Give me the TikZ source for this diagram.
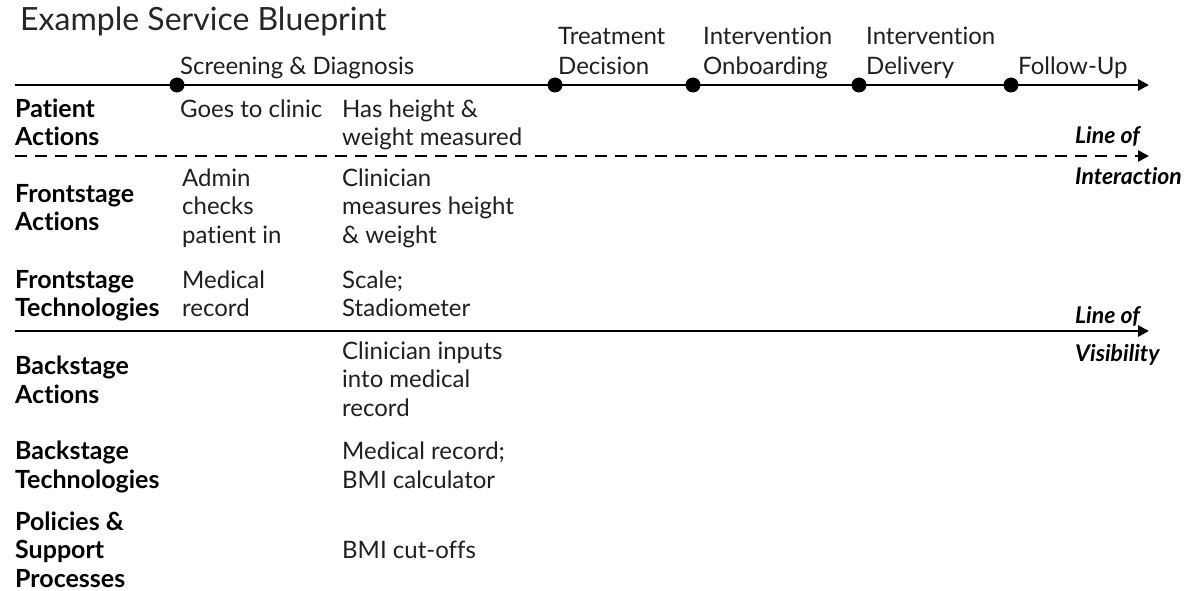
\documentclass[tikz,border=0pt]{standalone}
\usepackage{fontspec}
\setmainfont[Ligatures=NoCommon]{Lato}
\usetikzlibrary{arrows.meta}
\begin{document}
\begin{tikzpicture}[x=1pt,y=-1pt,
  txt/.style={anchor=base west,inner sep=0pt,align=left,text=black!88,
    font=\fontsize{24}{28.3}\selectfont},
  phase/.style={txt,font=\fontsize{24}{30}\selectfont},
  rowlab/.style={txt,text=black,font=\fontsize{25}{28.3}\selectfont\bfseries},
  linelab/.style={txt,text=black,font=\fontsize{23}{40}\selectfont\bfseries\itshape},
  axis/.style={line width=2.8pt,-{Triangle[length=11pt,width=11pt]}},
  stage/.style={circle,fill=black,inner sep=0pt,minimum size=15pt}]
\useasboundingbox (0,0) rectangle (1194,591);

% title
\node[txt,text=black!85,font=\fontsize{32}{36}\selectfont] (title) at (20,31) {Example Service Blueprint};

% customer journey timeline with its stages
\coordinate (tl0) at (15,85);
\coordinate (tl1) at (1149,85);
\draw[axis] (tl0) -- (tl1);
\node[stage] (s1) at (177,85) {};
\node[stage] (s2) at (555,85) {};
\node[stage] (s3) at (693,85) {};
\node[stage] (s4) at (859,85) {};
\node[stage] (s5) at (1011,85) {};
\node[phase] (p1) at (180,75) {Screening \& Diagnosis};
\node[phase] (p2) at (558,75) {Treatment\\Decision};
\node[phase] (p3) at (703,75) {Intervention\\Onboarding};
\node[phase] (p4) at (866,75) {Intervention\\Delivery};
\node[phase] (p5) at (1018,75) {Follow-Up};

% line of interaction
\coordinate (li0) at (15,156);
\coordinate (li1) at (1149,156);
\draw[axis,dash pattern=on 12pt off 8pt] (li0) -- (li1);
\node[linelab] (lil) at (1075,184) {Line of\\Interaction};

% line of visibility
\coordinate (lv0) at (15,331);
\coordinate (lv1) at (1149,331);
\draw[axis] (lv0) -- (lv1);
\node[linelab,font=\fontsize{23}{38.7}\selectfont\bfseries\itshape] (lvl) at (1075,361.7) {Line of\\Visibility};

% row labels (anchored at the baseline of their last line)
\node[rowlab] (r1) at (15,146) {Patient\\Actions};
\node[rowlab] (r2) at (15,230.5) {Frontstage\\Actions};
\node[rowlab] (r3) at (15,316.5) {Frontstage\\Technologies};
\node[rowlab] (r4) at (15,403) {Backstage\\Actions};
\node[rowlab] (r5) at (15,488) {Backstage\\Technologies};
\node[rowlab] (r6) at (15,587) {Policies \&\\Support\\Processes};

% screening & diagnosis cells
\node[txt] (c11) at (180,117.7) {Goes to clinic};
\node[txt] (c12) at (342,146) {Has height \&\\weight measured};
\node[txt] (c21) at (182,243) {Admin\\checks\\patient in};
\node[txt] (c22) at (342,243) {Clinician\\measures height\\\& weight};
\node[txt] (c31) at (182,316.5) {Medical\\record};
\node[txt] (c32) at (342,316.5) {Scale;\\Stadiometer};
\node[txt] (c42) at (342,416) {Clinician inputs\\into medical\\record};
\node[txt] (c52) at (342,488) {Medical record;\\BMI calculator};
\node[txt] (c62) at (342,558) {BMI cut-offs};
\end{tikzpicture}
\end{document}
